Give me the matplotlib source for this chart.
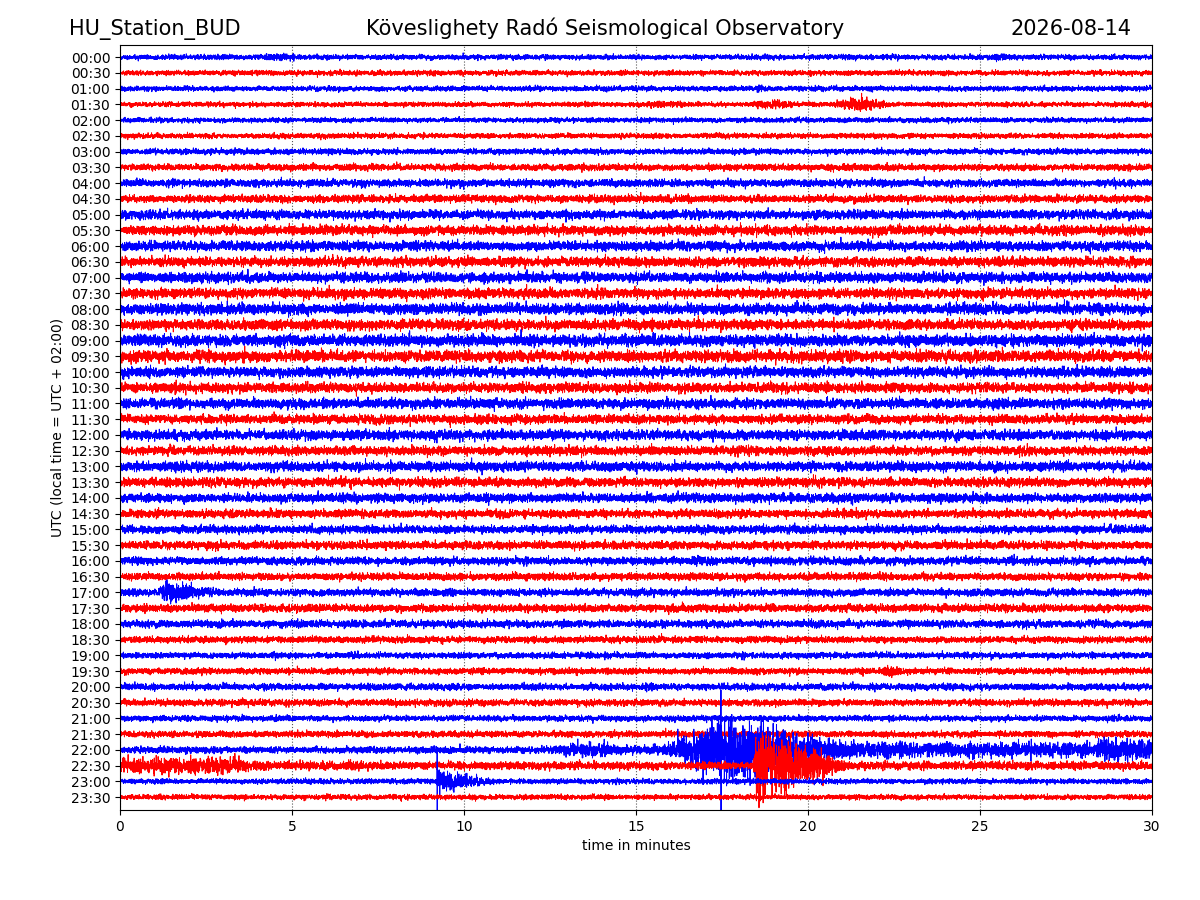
import numpy as np
import matplotlib
matplotlib.use("Agg")
import matplotlib.pyplot as plt

# ---------------- data ----------------
station = "HU_Station_BUD"
observatory = "Köveslighety Radó Seismological Observatory"
date_label = "2026-08-14"
row_labels = [f"{h:02d}:{m:02d}" for h in range(24) for m in (0, 30)]
row_colors = ["#0000ff", "#ff0000"]          # alternating trace colours

# typical half-width of the background noise band per row (row units)
base_amp = [0.17, 0.17, 0.17, 0.16, 0.16, 0.17, 0.19, 0.22,
            0.25, 0.25, 0.30, 0.32, 0.32, 0.32, 0.33, 0.33,
            0.36, 0.34, 0.38, 0.38, 0.34, 0.32, 0.33, 0.30,
            0.33, 0.30, 0.32, 0.30, 0.30, 0.27, 0.27, 0.27,
            0.26, 0.24, 0.24, 0.26, 0.25, 0.22, 0.20, 0.21,
            0.22, 0.22, 0.19, 0.21, 0.22, 0.25, 0.17, 0.17]

# rows with events: envelope knots (minute, half-width in row units)
event_knots = {
    0:  ([0, 3.8, 4.5, 5.2, 25.2, 25.6, 26.0, 30],
         [0.17, 0.17, 0.26, 0.17, 0.17, 0.26, 0.17, 0.17]),
    3:  ([0, 15.0, 15.6, 16.4, 18.3, 19.0, 19.8, 20.7, 21.5, 22.4, 30],
         [0.16, 0.16, 0.26, 0.16, 0.16, 0.34, 0.16, 0.16, 0.50, 0.16, 0.16]),
    32: ([0, 16.6, 16.8, 17.3, 30],
         [0.26, 0.26, 0.42, 0.26, 0.26]),
    34: ([0, 1.1, 1.3, 2.0, 2.5, 3.0, 30],
         [0.24, 0.24, 0.72, 0.62, 0.38, 0.24, 0.24]),
    39: ([0, 22.1, 22.35, 22.7, 30],
         [0.21, 0.21, 0.50, 0.21, 0.21]),
    44: ([0, 12.5, 13.3, 14.2, 14.6, 15.8, 16.2, 16.9, 17.1, 18.6, 19.5, 20.5, 21.2,
          28.3, 28.6, 29.5, 30],
         [0.22, 0.22, 0.52, 0.48, 0.32, 0.34, 0.72, 1.30, 2.10, 2.00, 1.25, 0.85, 0.52,
          0.48, 0.80, 0.75, 0.75]),
    45: ([0, 0.1, 3.4, 3.8, 4.1, 4.5, 6.9, 7.6, 18.4, 18.5, 19.5, 20.3, 20.8, 21.2, 30],
         [0.55, 0.55, 0.55, 0.26, 0.34, 0.26, 0.34, 0.26, 0.26, 1.95, 1.75, 1.05, 0.48, 0.28, 0.28]),
    46: ([0, 9.2, 9.25, 9.6, 10.5, 11.0, 30],
         [0.17, 0.17, 0.95, 0.62, 0.32, 0.17, 0.17]),
}

# single large spikes: (row, minute, up, down) in row units
spikes = [(44, 17.47, 3.8, 4.3),
          (46, 9.22, 1.9, 2.2)]

# ---------------- build traces ----------------
n_samples = 14000
t = np.linspace(0, 30, n_samples)
rng = np.random.default_rng(7)

fig = plt.figure(figsize=(12, 9), dpi=100)
ax = fig.add_axes([0.1, 0.1, 0.86, 0.85])

for i in range(len(row_labels)):
    if i in event_knots:
        kt, ka = event_knots[i]
        env = np.interp(t, kt, ka)
    else:
        env = np.full_like(t, base_amp[i])
    w = rng.standard_normal(n_samples + 4)
    w = np.convolve(w, [0.25, 0.5, 0.25], mode="same")[2:-2]
    w /= w.std()
    patch = np.convolve(np.abs(rng.standard_normal(n_samples)), np.ones(120) / 120, mode="same")
    patch /= patch.mean()
    sig = env / 2.5 * w * (0.65 + 0.35 * patch)
    for (r, tm, up, dn) in spikes:
        if r == i:
            k = int(np.argmin(np.abs(t - tm)))
            sig[k] = up
            sig[k + 1] = -dn
    ax.plot(t, i - sig, color=row_colors[i % 2], lw=0.7)

ax.set_xlim(0, 30)
ax.set_ylim(47.82, -0.77)
ax.set_yticks(range(len(row_labels)))
ax.set_yticklabels(row_labels)
ax.set_xticks([0, 5, 10, 15, 20, 25, 30])
ax.grid(axis="x", linestyle=":", color="0.35", lw=0.8)
ax.set_xlabel("time in minutes")
ax.set_ylabel("UTC (local time = UTC + 02:00)")

fig.text(0.0575, 0.9611, station, fontsize=15, ha="left", va="baseline")
fig.text(0.5046, 0.9611, observatory, fontsize=15, ha="center", va="baseline")
fig.text(0.9425, 0.9611, date_label, fontsize=15, ha="right", va="baseline")

fig.savefig("out.png", dpi=100)
